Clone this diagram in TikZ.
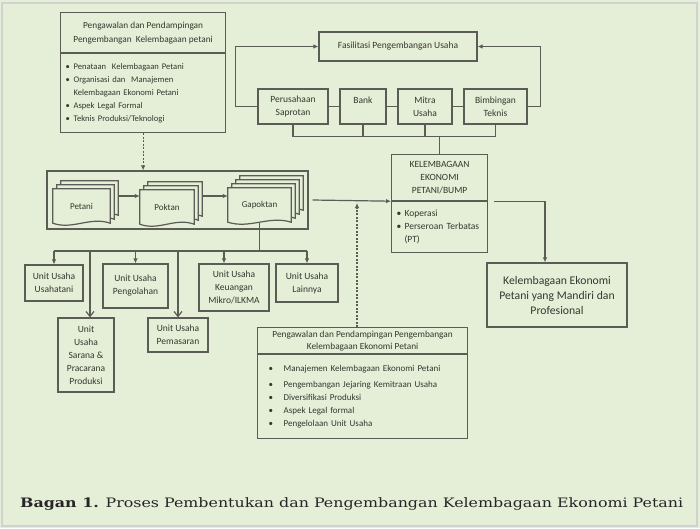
\documentclass[tikz,border=0pt]{standalone}
\usepackage{fontspec}
\setmainfont{Carlito}
\newfontfamily\capfont{DejaVu Serif}
\usetikzlibrary{arrows.meta}

\definecolor{bgreen}{HTML}{E5EED7}
\definecolor{lgray}{HTML}{5A5C55}
\definecolor{tgray}{HTML}{34382F}

\newcommand\bl{\makebox[8pt][l]{\textbullet}}
\newcommand\ind{\makebox[8pt]{}}
\newcommand\blw{\hspace*{6pt}\makebox[15pt][l]{\textbullet}}

% one stack of documents: name, position, width, layer offsets, text
\newcommand\docstack[5]{%
  \node[docnode=#3] (#1) at (#2) {};
  \foreach \d in {#4}
    \draw[conn, fill=bgreen] ([shift={(\d,-\d)}]#1.north west) -- ([shift={(\d,-\d)}]#1.north east)
      -- ([shift={(\d,-\d)}]#1.south east)
      .. controls ([shift={(\d-0.35*#3,-\d-7)}]#1.south east) and ([shift={(\d+0.35*#3,-\d+7)}]#1.south west)
      .. ([shift={(\d,-\d)}]#1.south west) -- cycle;
  \node[docnode=#3, text=tgray, font=\fontsize{9}{12}\selectfont] at (#1) {#5};
}

\tikzset{
  box/.style={draw=lgray, line width=1.2pt, text=tgray, align=center, inner sep=1pt,
    font=\fontsize{9.5}{13}\selectfont},
  list/.style={box, align=left, anchor=north west, inner xsep=5pt},
  conn/.style={draw=lgray, line width=1.2pt},
  arr/.style={conn, -{Latex[length=5pt,width=4.5pt]}},
  varr/.style={conn, -{Straight Barb[length=5pt,width=8pt]}},
  dasharr/.style={arr, dash pattern=on 2pt off 1.5pt},
  docnode/.style={minimum width=#1, minimum height=34, inner sep=0pt},
}

\begin{document}
\begin{tikzpicture}[x=1pt,y=-1pt]
\useasboundingbox (0,0) rectangle (700,528);
\fill[bgreen] (0,0) rectangle (700,528);
\draw[black!18, line width=1.2pt] (2,3) rectangle (697,526);

% pendampingan kelembagaan petani
\node[box, minimum width=165, minimum height=40, anchor=north west, font=\fontsize{9.3}{14}\selectfont]
  (phead) at (60,12) {Pengawalan dan Pendampingan\\Pengembangan\ \ Kelembagaan petani};
\node[list, text width=155, minimum height=79, font=\fontsize{8.6}{13}\selectfont] (plist) at (phead.south west)
  {\bl Penataan\ \ Kelembagaan Petani\\ \bl Organisasi dan\ \ Manajemen\\
   \ind Kelembagaan Ekonomi Petani\\ \bl Aspek Legal Formal\\ \bl Teknis Produksi/Teknologi};

% fasilitasi usaha
\node[box, minimum width=158, minimum height=29] (fasil) at (398,46.5) {Fasilitasi Pengembangan Usaha};
\node[box, minimum width=70, minimum height=35] (saprotan) at (293,106.5) {Perusahaan\\Saprotan};
\node[box, minimum width=46, minimum height=35] (bank) at (363,106.5) {Bank\\\mbox{}};
\node[box, minimum width=54, minimum height=35] (mitra) at (425,106.5) {Mitra\\Usaha};
\node[box, minimum width=63, minimum height=35] (teknis) at (495.5,106.5) {Bimbingan\\Teknis};
\draw[conn] (saprotan) -- (bank) -- (mitra) -- (teknis);
\draw[arr] (saprotan.west) -- ++(-22,0) |- (fasil.west);
\draw[arr] (teknis.east) -- ++(13,0) |- (fasil.east);
\draw[conn] (saprotan.south) -- ++(0,12) -| (teknis.south);
\draw[conn] (bank.south) -- ++(0,12);
\draw[conn] (mitra.south) -- ++(0,12);

% kelembagaan ekonomi petani
\node[box, minimum width=96, minimum height=46, anchor=north west] (bumphead) at (391,154)
  {KELEMBAGAAN\\EKONOMI\\PETANI/BUMP};
\node[list, text width=86, minimum height=51] (bumplist) at (bumphead.south west)
  {\bl Koperasi\\ \bl Perseroan Terbatas\\ \ind (PT)};
\draw[conn] (bumphead.north) -- ++(0,-18);

% petani - poktan - gapoktan
\node[box, minimum width=261, minimum height=58] (stackframe) at (177.5,200) {};
\docstack{petani}{81.5,206}{57}{8,4,0}{Petani}
\docstack{poktan}{167,207}{54}{8,4,0}{Poktan}
\docstack{gapoktan}{259.5,205}{63}{12,8,4,0}{Gapoktan}
\draw[arr] ([shift={(8,-10)}]petani.east) -- ([shift={(0,-11)}]poktan.west);
\draw[arr] ([shift={(8,-11)}]poktan.east) -- ([shift={(0,-9)}]gapoktan.west);
\draw[dasharr] (plist.south) -- (plist.south |- stackframe.north);
\draw[arr] ([xshift=4pt]stackframe.east) -- (bumphead.south west);

% unit usaha
\node[box, minimum width=58, minimum height=36] (usahatani) at (54,283) {Unit Usaha\\Usahatani};
\node[box, minimum width=56, minimum height=74] (sarana) at (86,355) {Unit\\Usaha\\Sarana \&\\Pracarana\\Produksi};
\node[box, minimum width=65, minimum height=44] (pengolahan) at (135.5,286) {Unit Usaha\\Pengolahan};
\node[box, minimum width=60, minimum height=34] (pemasaran) at (178,335) {Unit Usaha\\Pemasaran};
\node[box, minimum width=70, minimum height=47] (keuangan) at (234,287.5) {Unit Usaha\\Keuangan\\Mikro/ILKMA};
\node[box, minimum width=62, minimum height=38] (lainnya) at (307,283) {Unit Usaha\\Lainnya};
\coordinate (bus) at (254,251);
\coordinate (sdrop) at (90,251);
\coordinate (kdrop) at (224,251);
\draw[conn] (gapoktan.south) -- (gapoktan.south |- bus);
\draw[conn] (bus -| usahatani.north) -- (bus -| lainnya.north);
\draw[arr] (bus -| usahatani.north) -- (usahatani.north);
\draw[varr] (sdrop) -- (sdrop |- sarana.north);
\draw[arr] (bus -| pengolahan.north) -- (pengolahan.north);
\draw[varr] (bus -| pemasaran.north) -- (pemasaran.north);
\draw[arr] (kdrop) -- (kdrop |- keuangan.north);
\draw[arr] (bus -| lainnya.north) -- (lainnya.north);

% pendampingan kelembagaan ekonomi
\node[box, minimum width=210, minimum height=26, anchor=north west, font=\fontsize{9.3}{12}\selectfont]
  (pkhead) at (257,327) {Pengawalan dan Pendampingan Pengembangan\\Kelembagaan Ekonomi Petani};
\node[list, text width=200, minimum height=84, inner xsep=5pt, font=\fontsize{9}{13}\selectfont] (pklist) at (pkhead.south west)
  {\blw Manajemen Kelembagaan Ekonomi Petani\\[3pt] \blw Pengembangan Jejaring Kemitraan Usaha\\
   \blw Diversifikasi Produksi\\ \blw Aspek Legal formal\\ \blw Pengelolaan Unit Usaha};
\coordinate (dashtop) at (357,203);
\draw[dasharr] (pkhead.north -| dashtop) -- (dashtop);

% hasil
\node[box, minimum width=140, minimum height=64, font=\fontsize{11.7}{15}\selectfont] (mandiri) at (557,295)
  {Kelembagaan Ekonomi\\Petani yang Mandiri dan\\Profesional};
\draw[arr] ([xshift=6pt]bumphead.south east) -| ([xshift=-12pt]mandiri.north);

% caption
\node[anchor=west, inner sep=0pt, text=black!85] (caption) at (20,504)
  {\resizebox{663pt}{\height}{\capfont\fontsize{13}{15}\selectfont\textbf{Bagan 1.} Proses Pembentukan dan Pengembangan Kelembagaan Ekonomi Petani}};
\end{tikzpicture}
\end{document}
